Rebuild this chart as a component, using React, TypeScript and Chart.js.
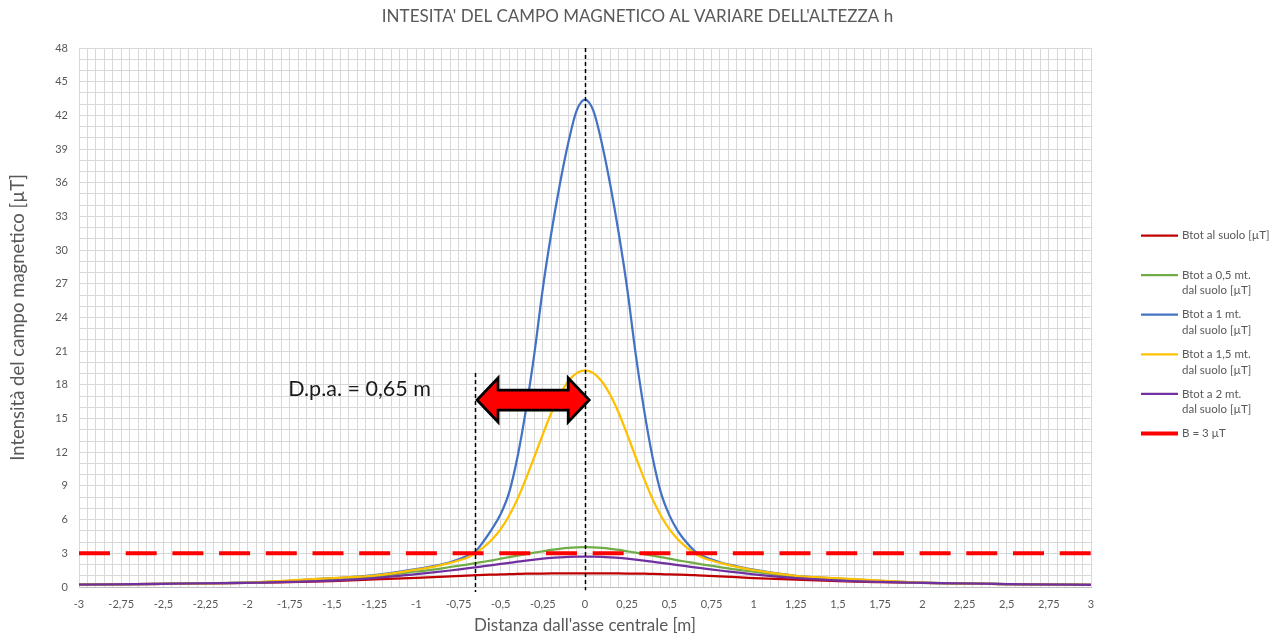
import { useEffect, useRef } from 'react';
import { Chart, registerables } from 'chart.js';

Chart.register(...registerables);

// Distance from the central axis [m]
const distances = [
  -3, -2.5, -2, -1.75, -1.5, -1.25, -1, -0.9, -0.8, -0.7, -0.65, -0.6, -0.55, -0.5, -0.45, -0.4, -0.35, -0.3, -0.25, -0.2, -0.15, -0.1, -0.05,
  0,
  0.05, 0.1, 0.15, 0.2, 0.25, 0.3, 0.35, 0.4, 0.45, 0.5, 0.55, 0.6, 0.65, 0.7, 0.8, 0.9, 1, 1.25, 1.5, 1.75, 2, 2.5, 3,
];

// Btot at ground level [µT]
const bSuolo = [
  0.22, 0.28, 0.36, 0.44, 0.53, 0.67, 0.82, 0.88, 0.95, 1.02, 1.05, 1.08, 1.1, 1.12, 1.14, 1.16, 1.18, 1.19, 1.2, 1.21, 1.22, 1.22, 1.22,
  1.22,
  1.22, 1.22, 1.22, 1.21, 1.2, 1.19, 1.18, 1.16, 1.14, 1.12, 1.1, 1.08, 1.05, 1.02, 0.95, 0.88, 0.8, 0.66, 0.52, 0.43, 0.36, 0.26, 0.19,
];

// Btot at 0.5 m above ground [µT]
const b05 = [
  0.22, 0.28, 0.38, 0.5, 0.65, 0.92, 1.38, 1.55, 1.78, 2.0, 2.12, 2.25, 2.38, 2.52, 2.66, 2.8, 2.93, 3.06, 3.18, 3.3, 3.4, 3.48, 3.53,
  3.55,
  3.53, 3.48, 3.4, 3.3, 3.18, 3.06, 2.93, 2.8, 2.66, 2.52, 2.38, 2.25, 2.12, 2.0, 1.78, 1.55, 1.36, 0.9, 0.64, 0.49, 0.37, 0.26, 0.19,
];

// Btot at 1 m above ground [µT]
const b1 = [
  0.22, 0.28, 0.4, 0.55, 0.78, 1.05, 1.6, 1.85, 2.2, 2.75, 3.15, 4.1, 5.2, 6.5, 8.4, 11.6, 15.8, 20.8, 26.6, 31.5, 35.8, 39.5, 42.4,
  43.4,
  42.4, 39.5, 35.8, 31.5, 26.6, 20.8, 15.8, 11.6, 8.4, 6.4, 5.0, 4.0, 3.2, 2.75, 2.2, 1.85, 1.55, 1.0, 0.75, 0.54, 0.39, 0.26, 0.19,
];

// Btot at 1.5 m above ground [µT]
const b15 = [
  0.22, 0.28, 0.4, 0.58, 0.8, 1.02, 1.55, 1.8, 2.15, 2.6, 3.0, 3.55, 4.25, 5.15, 6.35, 7.85, 9.65, 11.6, 13.6, 15.5, 17.1, 18.3, 19.05,
  19.3,
  19.05, 18.3, 17.1, 15.5, 13.6, 11.6, 9.65, 7.85, 6.35, 5.15, 4.25, 3.55, 3.0, 2.6, 2.15, 1.8, 1.5, 1.0, 0.78, 0.57, 0.39, 0.26, 0.19,
];

// Btot at 2 m above ground [µT]
const b2 = [
  0.22, 0.28, 0.37, 0.46, 0.57, 0.8, 1.15, 1.3, 1.47, 1.66, 1.75, 1.85, 1.95, 2.05, 2.15, 2.25, 2.35, 2.44, 2.52, 2.59, 2.64, 2.68, 2.7,
  2.7,
  2.7, 2.68, 2.64, 2.59, 2.52, 2.44, 2.35, 2.25, 2.15, 2.05, 1.95, 1.85, 1.75, 1.66, 1.47, 1.3, 1.12, 0.78, 0.56, 0.45, 0.36, 0.26, 0.19,
];

// Threshold B = 3 µT across the whole span
const thresholdX = [-3, 3];
const thresholdY = [3, 3];

// Fascia di rispetto: distance of the 3 µT crossing from the axis
const dpaDistance = 0.65;
const dpaLabel = 'D.p.a. = 0,65 m';

const chartTitle = "INTESITA' DEL CAMPO MAGNETICO AL VARIARE DELL'ALTEZZA h";
const xTitle = "Distanza dall'asse centrale [m]";
const yTitle = 'Intensità del campo magnetico [µT]';

const legendLines = [
  ['Btot al suolo [µT]'],
  ['Btot a 0,5 mt.', 'dal suolo [µT]'],
  ['Btot a 1 mt.', 'dal suolo [µT]'],
  ['Btot a 1,5 mt.', 'dal suolo [µT]'],
  ['Btot a 2 mt.', 'dal suolo [µT]'],
  ['B = 3 µT'],
];

const FONT = 'Lato, "Open Sans", sans-serif';
const GREY = '#595959';

const toPoints = (ys: number[]) => distances.map((x, i) => ({ x, y: ys[i] }));

const isMultiple = (v: number, step: number) => Math.abs(v / step - Math.round(v / step)) < 1e-6;
const fmtComma = (v: number) => {
  const r = Math.round(v * 100) / 100;
  return (r === 0 ? 0 : r).toString().replace('.', ',');
};

const overlayPlugin = {
  id: 'overlay',
  afterDatasetsDraw(chart: any) {
    const { ctx, scales } = chart;
    const xs = scales.x;
    const ys = scales.y;
    ctx.save();

    // dashed reference verticals: central axis and D.p.a. boundary
    ctx.strokeStyle = '#000000';
    ctx.lineWidth = 1.5;
    ctx.setLineDash([4, 3]);
    const verticals = [
      { x: 0, top: 48, bottom: -0.3 },
      { x: -dpaDistance, top: 19.05, bottom: -0.45 },
    ];
    for (const v of verticals) {
      const px = Math.round(xs.getPixelForValue(v.x)) + 0.5;
      ctx.beginPath();
      ctx.moveTo(px, ys.getPixelForValue(v.top));
      ctx.lineTo(px, ys.getPixelForValue(v.bottom));
      ctx.stroke();
    }
    ctx.setLineDash([]);

    // double-headed arrow spanning the D.p.a.
    const L = xs.getPixelForValue(-dpaDistance + 0.01);
    const R = xs.getPixelForValue(0.025);
    const cy = ys.getPixelForValue(16.65);
    const hl = 21;
    const hh = 22;
    const sh = 10;
    ctx.beginPath();
    ctx.moveTo(L, cy);
    ctx.lineTo(L + hl, cy - hh);
    ctx.lineTo(L + hl, cy - sh);
    ctx.lineTo(R - hl, cy - sh);
    ctx.lineTo(R - hl, cy - hh);
    ctx.lineTo(R, cy);
    ctx.lineTo(R - hl, cy + hh);
    ctx.lineTo(R - hl, cy + sh);
    ctx.lineTo(L + hl, cy + sh);
    ctx.lineTo(L + hl, cy + hh);
    ctx.closePath();
    ctx.fillStyle = '#ff0000';
    ctx.fill();
    ctx.lineJoin = 'miter';
    ctx.lineWidth = 2.75;
    ctx.strokeStyle = '#000000';
    ctx.stroke();

    // D.p.a. label
    ctx.fillStyle = '#1a1a1a';
    ctx.font = `21.5px ${FONT}`;
    ctx.textAlign = 'left';
    ctx.textBaseline = 'middle';
    ctx.fillText(dpaLabel, xs.getPixelForValue(-1.76), ys.getPixelForValue(17.6));
    ctx.restore();
  },
  afterDraw(chart: any) {
    const { ctx, width } = chart;
    ctx.save();
    // chart title
    ctx.fillStyle = GREY;
    ctx.font = `17px ${FONT}`;
    ctx.textAlign = 'center';
    ctx.textBaseline = 'middle';
    ctx.fillText(chartTitle, width / 2 - 3, 17);

    // legend on the right
    const datasets = chart.data.datasets;
    ctx.font = `11.5px ${FONT}`;
    ctx.textAlign = 'left';
    legendLines.forEach((lines, i) => {
      const ds = datasets[i];
      const y = 235.5 + i * 39.6;
      ctx.strokeStyle = ds.borderColor;
      ctx.lineWidth = ds.borderWidth;
      ctx.beginPath();
      ctx.moveTo(1141, y);
      ctx.lineTo(1178, y);
      ctx.stroke();
      ctx.fillStyle = GREY;
      lines.forEach((t, j) => ctx.fillText(t, 1182, y + j * 15.5));
    });
    ctx.restore();
  },
};

export default function App() {
  const ref = useRef<HTMLCanvasElement>(null);

  useEffect(() => {
    document.body.style.margin = '0';
    const series = [
      { label: legendLines[0].join(' '), data: toPoints(bSuolo), color: '#c00000', width: 2.25 },
      { label: legendLines[1].join(' '), data: toPoints(b05), color: '#70ad47', width: 2.25 },
      { label: legendLines[2].join(' '), data: toPoints(b1), color: '#4472c4', width: 2.25 },
      { label: legendLines[3].join(' '), data: toPoints(b15), color: '#ffc000', width: 2.25 },
      { label: legendLines[4].join(' '), data: toPoints(b2), color: '#7030a0', width: 2.25 },
    ];
    const datasets: any[] = series.map((s, i) => ({
      label: s.label,
      data: s.data,
      borderColor: s.color,
      backgroundColor: s.color,
      borderWidth: s.width,
      showLine: true,
      pointRadius: 0,
      cubicInterpolationMode: 'monotone',
      order: 10 - i,
    }));
    datasets.push({
      label: legendLines[5].join(' '),
      data: thresholdX.map((x, i) => ({ x, y: thresholdY[i] })),
      borderColor: '#ff0000',
      backgroundColor: '#ff0000',
      borderWidth: 4,
      borderDash: [31, 15.7],
      showLine: true,
      pointRadius: 0,
      order: 0,
    });

    const tickFont = { family: FONT, size: 11 };

    const chart = new Chart(ref.current as HTMLCanvasElement, {
      type: 'scatter',
      data: { datasets },
      options: {
        responsive: false,
        animation: false,
        devicePixelRatio: 1,
        layout: { padding: { top: 48, right: 190, left: 0, bottom: 0 } },
        plugins: {
          legend: { display: false },
          tooltip: { enabled: false },
          title: { display: false },
        },
        scales: {
          x: {
            type: 'linear',
            min: -3,
            max: 3,
            afterFit: (s: any) => {
              s.height = 50;
            },
            ticks: {
              stepSize: 0.05,
              autoSkip: false,
              maxRotation: 0,
              minRotation: 0,
              padding: 11,
              color: GREY,
              font: tickFont,
              callback: (v: any) => (isMultiple(Number(v), 0.25) ? fmtComma(Number(v)) : ''),
            },
            grid: { color: '#d9d9d9', drawTicks: false, lineWidth: 1 },
            border: { color: '#bfbfbf' },
            title: {
              display: true,
              text: xTitle,
              color: GREY,
              font: { family: FONT, size: 17 },
              padding: { top: 0, bottom: 1 },
            },
          },
          y: {
            type: 'linear',
            min: 0,
            max: 48,
            afterFit: (s: any) => {
              s.width = 79;
            },
            ticks: {
              stepSize: 1,
              autoSkip: false,
              padding: 11,
              color: GREY,
              font: tickFont,
              callback: (v: any) => (isMultiple(Number(v), 3) ? String(Math.round(Number(v))) : ''),
            },
            grid: { color: '#d9d9d9', drawTicks: false, lineWidth: 1 },
            border: { display: false },
            title: {
              display: true,
              text: yTitle,
              color: GREY,
              font: { family: FONT, size: 18.5 },
              padding: { top: 7, bottom: 0 },
            },
          },
        },
      },
      plugins: [overlayPlugin],
    } as any);

    return () => chart.destroy();
  }, []);

  return (
    <div style={{ width: 1281, height: 637 }}>
      <canvas ref={ref} width={1281} height={637} style={{ display: 'block' }} />
    </div>
  );
}
